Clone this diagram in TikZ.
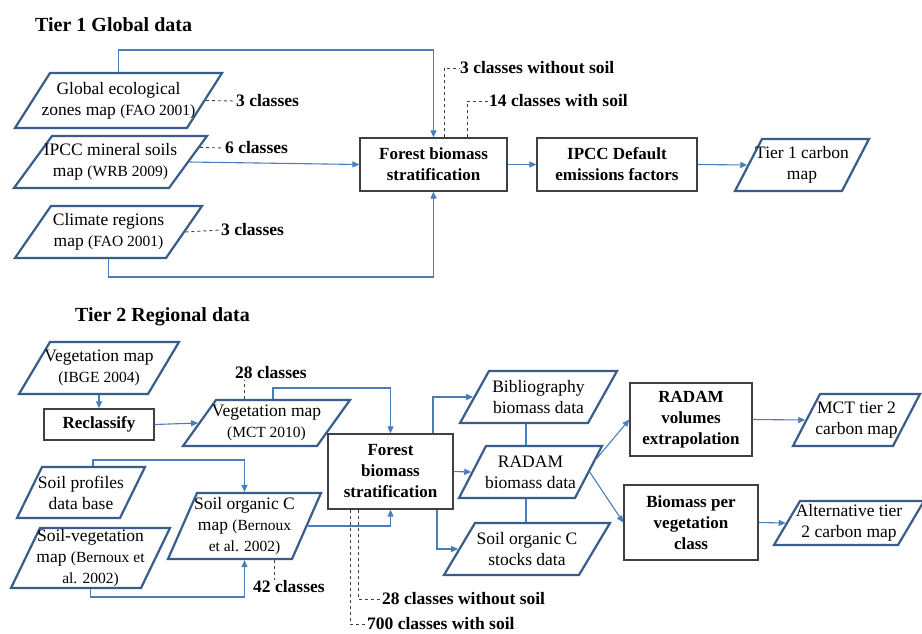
\documentclass[tikz,border=0pt]{standalone}
\usepackage{fontspec}
\setmainfont{Liberation Serif}
\usetikzlibrary{shapes.geometric,arrows.meta,calc}

\definecolor{mapedge}{HTML}{385D8A}
\definecolor{linkblue}{HTML}{4A7EBB}
\definecolor{boxedge}{HTML}{404040}

\newcommand{\yrnote}[1]{{\fontsize{15.5}{18}\selectfont #1}}

\tikzset{
  % datamap={total width}{height}{slant}
  datamap/.style n args={3}{trapezium, trapezium left angle={atan(#2/#3)},
    trapezium right angle={180-atan(#2/#3)},
    draw=mapedge, line width=2.2pt, fill=white,
    inner xsep={(#1-2*#3)/2}, inner ysep={#2/2}, minimum size=0pt},
  maptext/.style={align=center, inner sep=0pt, font=\fontsize{17.5}{21}\selectfont},
  procbox/.style={rectangle, draw=boxedge, line width=1.3pt, fill=white, align=center,
    font=\bfseries\fontsize{17}{21}\selectfont, inner sep=0pt},
  flow/.style={draw=linkblue, line width=1.1pt, -{Triangle[length=7pt,width=6pt]}},
  link/.style={draw=linkblue, line width=1.1pt},
  dashlink/.style={draw=black!75, line width=0.9pt, dash pattern=on 3pt off 3pt},
  classlbl/.style={font=\bfseries\fontsize{17.5}{20}\selectfont, inner sep=1pt},
  tiertitle/.style={font=\bfseries\fontsize{20}{24}\selectfont, inner sep=0pt}
}

\begin{document}
\begin{tikzpicture}[x=1pt, y=-1pt]
\useasboundingbox (0,0) rectangle (922,633);

% tier 1
\node[tiertitle, anchor=west] (t1title) at (35,25) {Tier 1 Global data};

\node[datamap={207}{55}{35},
  label={[maptext, name=geo-t]center:{Global ecological\\zones map \yrnote{(FAO 2001)}}}]
  (geo) at (118.5,100.5) {};
\node[datamap={193}{52}{38},
  label={[maptext, name=ipcc-t]center:{IPCC mineral soils\\map \yrnote{(WRB 2009)}}}]
  (ipcc) at (110.5,162) {};
\node[datamap={187}{52}{36},
  label={[maptext, name=clim-t]center:{Climate regions\\map \yrnote{(FAO 2001)}}}]
  (clim) at (108.5,232) {};

\node[procbox, minimum width=147, minimum height=53] (strat1) at (433.5,164.5)
  {Forest biomass\\stratification};
\node[procbox, minimum width=160, minimum height=53] (ipccdef) at (617,164.5)
  {IPCC Default\\emissions factors};
\node[datamap={134}{52}{27},
  label={[maptext, name=t1map-t]center:{Tier 1 carbon\\map}}]
  (t1map) at (802,165) {};

\node[classlbl, anchor=west] (geo3) at (235,101) {3 classes};
\node[classlbl, anchor=west] (ipcc6) at (224,148) {6 classes};
\node[classlbl, anchor=west] (clim3) at (220,230) {3 classes};
\node[classlbl, anchor=west] (wo3) at (459,68) {3 classes without soil};
\node[classlbl, anchor=west] (w14) at (488,101) {14 classes with soil};

\coordinate (t1top) at (433.5,50);
\coordinate (t1bot) at (433.5,277);
\draw[flow] (geo.north) |- (t1top) -- (strat1.north);
\draw[flow] (ipcc.east) -- (strat1.west);
\draw[flow] (clim.south) |- (t1bot) -- (strat1.south);
\draw[flow] (strat1.east) -- (ipccdef.west);
\draw[flow] (ipccdef.east) -- (t1map.west);

\draw[dashlink] (geo.east) -- (geo3.west);
\draw[dashlink] ($(ipcc.top right corner)!0.23!(ipcc.bottom right corner)$) -- (ipcc6.west);
\draw[dashlink] (clim.east) -- (clim3.west);
\draw[dashlink] ([xshift=10.5pt]strat1.north) |- (wo3.west);
\draw[dashlink] ([xshift=33.5pt]strat1.north) |- (w14.west);

% tier 2
\node[tiertitle, anchor=west] (t2title) at (75,317) {Tier 2 Regional data};

\node[datamap={160}{52}{31},
  label={[maptext, name=vegibge-t]center:{Vegetation map\\\yrnote{(IBGE 2004)}}}]
  (vegibge) at (99,368) {};
\node[procbox, minimum width=110, minimum height=31] (reclass) at (99,424.5) {Reclassify};
\node[datamap={167}{46}{33},
  label={[maptext, name=vegmct-t]center:{Vegetation map\\\yrnote{(MCT 2010)}}}]
  (vegmct) at (266.5,423) {};
\node[datamap={128}{51}{25},
  label={[maptext, name=soilprof-t]center:{Soil profiles\\data base}}]
  (soilprof) at (81,492.5) {};
\node[datamap={159}{60}{29},
  label={[maptext, name=soilveg-t]center:{Soil-vegetation\\map \yrnote{(Bernoux et}\\\yrnote{al. 2002)}}}]
  (soilveg) at (90.5,558) {};
\node[datamap={153}{66}{29},
  label={[maptext, name=socmap-t]center:{Soil organic C\\map \yrnote{(Bernoux}\\\yrnote{et al. 2002)}}}]
  (socmap) at (244.5,526) {};

\node[procbox, minimum width=125, minimum height=75] (strat2) at (390.5,471.5)
  {Forest\\biomass\\stratification};
\node[datamap={157}{52}{29},
  label={[maptext, name=biblio-t]center:{Bibliography\\biomass data}}]
  (biblio) at (538.5,397) {};
\node[datamap={143}{52}{27},
  label={[maptext, name=radam-t]center:{RADAM\\biomass data}}]
  (radam) at (530.5,472) {};
\node[datamap={166}{52}{31},
  label={[maptext, name=stocks-t]center:{Soil organic C\\stocks data}}]
  (stocks) at (527,549) {};
\node[procbox, minimum width=122, minimum height=73] (radvol) at (691,419.5)
  {RADAM\\volumes\\extrapolation};
\node[procbox, minimum width=134, minimum height=75] (bpv) at (691,522.5)
  {Biomass per\\vegetation\\class};
\node[datamap={127}{52}{27},
  label={[maptext, name=mct2-t]center:{MCT tier 2\\carbon map}}]
  (mct2) at (856.5,420) {};
\node[datamap={150}{44}{26},
  label={[maptext, name=alt2-t]center:{Alternative tier\\2 carbon map}}]
  (alt2) at (849,523) {};

\node[classlbl, anchor=west] (c28) at (234,373) {28 classes};
\node[classlbl, anchor=west] (c42) at (252,587) {42 classes};
\node[classlbl, anchor=west] (wo28) at (381,599) {28 classes without soil};
\node[classlbl, anchor=west] (w700) at (366,624) {700 classes with soil};

\draw[flow] (vegibge.south) -- (reclass.north);
\draw[flow] (reclass.east) -- (vegmct.west);
\coordinate (t2veg) at (390.5,388);
\draw[flow] ([xshift=6.5pt]vegmct.north) |- (t2veg) -- (strat2.north);
\coordinate (t2prof) at (244.5,460);
\draw[flow] ([xshift=12pt]soilprof.north) |- (t2prof) -- (socmap.north);
\coordinate (t2sv) at (244.5,597);
\draw[flow] (soilveg.south) |- (t2sv) -- (socmap.south);
\draw[flow] (socmap.east) -| (strat2.south);
\draw[flow] ([xshift=42.5pt]strat2.north) |- (biblio.west);
\draw[flow] (strat2.east) -- (radam.west);
\draw[flow] ([xshift=46.5pt]strat2.south) |- (stocks.west);
\coordinate (radtop) at ([xshift=-4.5pt]radam.north);
\coordinate (radbot) at ([xshift=-4.5pt]radam.south);
\draw[link] (radtop) -- (radtop |- biblio.south);
\draw[link] (radbot) -- (radbot |- stocks.north);
\draw[flow] ($(radam.top right corner)!0.25!(radam.bottom right corner)$) -- (radvol.west);
\draw[flow] (radam.east) -- (bpv.west);
\draw[flow] (radvol.east) -- (mct2.west);
\draw[flow] (bpv.east) -- (alt2.west);

\coordinate (c28foot) at ([xshift=-22.5pt]vegmct.north);
\draw[dashlink] (c28foot) -- (c28foot |- c28.south);
\coordinate (c42foot) at ([xshift=29.5pt]socmap.south);
\draw[dashlink] (c42foot) -- (c42foot |- c42.north);
\draw[dashlink] ([xshift=-32.5pt]strat2.south) |- (wo28.west);
\draw[dashlink] ([xshift=-40.5pt]strat2.south) |- (w700.west);
\end{tikzpicture}
\end{document}
